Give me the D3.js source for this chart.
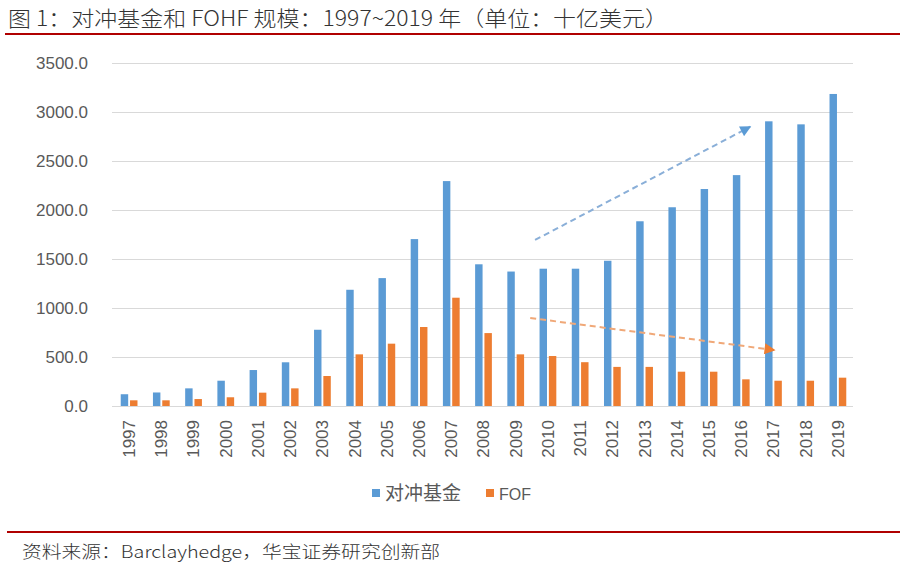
<!DOCTYPE html>
<html><head><meta charset="utf-8">
<script src="https://cdn.jsdelivr.net/npm/d3@7"></script>
<style>
html,body{margin:0;padding:0;background:#fff;}
svg{display:block;font-family:"Noto Sans CJK SC","Noto Sans",sans-serif;}
</style></head>
<body>
<svg id="c" width="900" height="568"></svg>
<script>
const years = ["1997","1998","1999","2000","2001","2002","2003","2004","2005","2006","2007","2008","2009","2010","2011","2012","2013","2014","2015","2016","2017","2018","2019"];
const hedgeFunds = [120,138,180,258,367,446,778,1186,1305,1703,2295,1446,1372,1401,1401,1482,1885,2028,2214,2356,2905,2874,3184];
const fof = [58,58,71,89,136,180,306,527,636,806,1105,744,527,510,447,399,399,350,350,272,258,258,289];
const seriesNames = ["对冲基金","FOF"];
const seriesColors = ["#5b9bd5","#ed7d31"];
const yTicks = [0,500,1000,1500,2000,2500,3000,3500];
// trend annotations: [category index, value]
const trendBlue = [[12.6,1694],[19.28,2850]];
const trendOrange = [[12.45,898],[20.03,571]];

const svg = d3.select("#c");
const L = 112, R = 853, T = 63, B = 406;

// title
svg.append("text").attr("x",8).attr("y",26).attr("font-size",21).attr("font-weight",300).attr("fill","#333")
  .attr("textLength",660).attr("lengthAdjust","spacingAndGlyphs")
  .text("图 1：对冲基金和 FOHF 规模：1997~2019 年（单位：十亿美元）");
svg.append("line").attr("x1",5).attr("x2",900).attr("y1",34).attr("y2",34)
  .attr("stroke","#b00000").attr("stroke-width",2);

const x = d3.scaleBand().domain(years).range([L+1, R+1]).paddingInner(0.48).paddingOuter(0.24);
const x1 = d3.scaleBand().domain(seriesNames).range([0, x.bandwidth()]).paddingInner(0.2);
const y = d3.scaleLinear().domain([0,3500]).range([B,T]);
const xc = i => x(years[0]) + x.step()*i + x.bandwidth()/2;

// y axis + grid
const ya = svg.append("g").attr("transform",`translate(${L},0)`)
  .call(d3.axisLeft(y).tickValues(yTicks).tickFormat(d3.format(".1f")).tickSize(-(R-L)).tickPadding(24));
ya.select(".domain").remove();
ya.selectAll("line").attr("stroke","#d9d9d9").attr("stroke-width",1);
ya.selectAll("text").attr("font-size",17).attr("fill","#595959").attr("font-family","Liberation Sans, Arial, sans-serif");

// bars
const data = years.map((yr,i)=>({yr, vals:[hedgeFunds[i], fof[i]]}));
const g = svg.append("g");
data.forEach(d=>{
  d.vals.forEach((v,j)=>{
    g.append("rect").attr("x", x(d.yr)+x1(seriesNames[j])).attr("width", x1.bandwidth())
      .attr("y", y(v)).attr("height", B - y(v)).attr("fill", seriesColors[j]);
  });
});

// x axis
const xa = svg.append("g").attr("transform",`translate(0,${B})`)
  .call(d3.axisBottom(x).tickSize(0).tickPadding(0));
xa.select(".domain").remove();
xa.selectAll("text").attr("font-size",17).attr("fill","#595959").attr("font-family","Liberation Sans, Arial, sans-serif")
  .attr("transform","rotate(-90)").attr("text-anchor","end").attr("x",-14).attr("y",0).attr("dy","0.35em");

// trend arrows
const defs = svg.append("defs");
[["ab","#5b9bd5"],["ao","#ed7d31"]].forEach(([id,c])=>{
  defs.append("marker").attr("id",id).attr("viewBox","0 0 10 10").attr("refX",9).attr("refY",5)
    .attr("markerWidth",6).attr("markerHeight",5.5).attr("orient","auto")
    .append("path").attr("d","M0,0 L10,5 L0,10 z").attr("fill",c);
});
[[trendBlue,"#8aafd8","ab"],[trendOrange,"#f0a878","ao"]].forEach(([p,c,m])=>{
  svg.append("line").attr("x1",xc(p[0][0])).attr("y1",y(p[0][1])).attr("x2",xc(p[1][0])).attr("y2",y(p[1][1]))
    .attr("stroke",c).attr("stroke-width",2).attr("stroke-dasharray","6,4")
    .attr("marker-end",`url(#${m})`);
});

// legend
const lg = svg.append("g");
const legendX = [372, 486];
seriesNames.forEach((n,j)=>{
  lg.append("rect").attr("x",legendX[j]).attr("y",489).attr("width",8).attr("height",8).attr("fill",seriesColors[j]);
  lg.append("text").attr("x",legendX[j]+13).attr("y",500).attr("font-size",j==1?16:19).attr("fill","#595959")
    .attr("font-family", j==1 ? "Liberation Sans, Arial, sans-serif" : null).text(n);
});

// footer
svg.append("line").attr("x1",7).attr("x2",900).attr("y1",532).attr("y2",532)
  .attr("stroke","#b00000").attr("stroke-width",2);
svg.append("text").attr("x",22).attr("y",558).attr("font-size",17).attr("font-weight",300).attr("fill","#333")
  .attr("textLength",418).attr("lengthAdjust","spacingAndGlyphs")
  .text("资料来源：Barclayhedge，华宝证券研究创新部");
</script>
</body></html>
